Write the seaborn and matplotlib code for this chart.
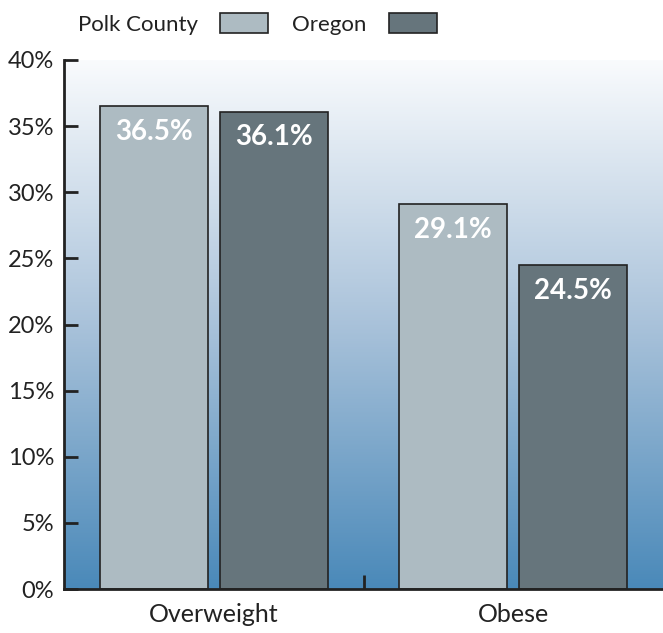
import pandas as pd
import matplotlib.pyplot as plt
import seaborn as sns
import numpy as np
from matplotlib.colors import LinearSegmentedColormap

# values
categories = ['Overweight', 'Obese']
polk_county = [36.5, 29.1]
oregon = [36.1, 24.5]
series_names = ['Polk County', 'Oregon']
y_ticks = [0, 5, 10, 15, 20, 25, 30, 35, 40]

df = pd.DataFrame({
    'category': categories * 2,
    'area': [series_names[0]] * len(categories) + [series_names[1]] * len(categories),
    'pct': polk_county + oregon,
})

sns.set_style('white')
plt.rcParams['font.family'] = ['Lato', 'DejaVu Sans']

fig = plt.figure(figsize=(6.63, 6.33), dpi=100)
ax = fig.add_axes([64 / 663, 44 / 633, 1 - 64 / 663, 529 / 633])

# background gradient, white at the top to steel blue at the bottom
bg_cmap = LinearSegmentedColormap.from_list(
    'bg', [(0.0, '#4a89b9'), (0.5, '#a9c2da'), (1.0, '#f9fbfd')])
grad = np.linspace(0, 1, 256).reshape(-1, 1)
ax.imshow(grad, extent=[-0.5, 1.5, 0, 40], origin='lower', aspect='auto',
          cmap=bg_cmap, zorder=0)

sns.barplot(data=df, x='category', y='pct', hue='area', order=categories,
            hue_order=series_names, palette=['#a9bcc6', '#63767f'],
            width=0.8, gap=0.1, edgecolor='#222222', linewidth=1.2,
            ax=ax, zorder=2)

for cont in ax.containers:
    ax.bar_label(cont, labels=[f'{v:.1f}%' for v in cont.datavalues],
                 padding=-28, color='white', fontsize=20, fontweight='bold')

ax.set_xlim(-0.5, 1.5)
ax.set_ylim(0, 40)
ax.set_yticks(y_ticks)
ax.set_yticklabels([f'{t}%' for t in y_ticks], fontsize=17, color='#222222')
ax.set_xticks([0, 1])
ax.set_xticklabels(categories, fontsize=18, color='#222222')
ax.tick_params(axis='x', length=0, pad=10)
ax.tick_params(axis='y', length=10, width=2, color='#222222', pad=7,
               direction='in', left=True)
ax.set_xticks([0.5], minor=True)
ax.tick_params(axis='x', which='minor', length=10, width=2,
               direction='in', color='#222222', bottom=True)
ax.set_xlabel('')
ax.set_ylabel('')

for s in ['top', 'right']:
    ax.spines[s].set_visible(False)
for s in ['left', 'bottom']:
    ax.spines[s].set_color('#222222')
    ax.spines[s].set_linewidth(2)
    ax.spines[s].set_zorder(5)

handles, labels = ax.get_legend_handles_labels()
ax.get_legend().remove()
fig.legend(handles, labels, loc='upper left', bbox_to_anchor=(58 / 663, 1.011),
           ncol=2, frameon=False, markerfirst=False, fontsize=16,
           handlelength=2.15, handleheight=1.03, handletextpad=1.0,
           columnspacing=1.1, labelcolor='#222222')

fig.savefig('out.png', dpi=100)
